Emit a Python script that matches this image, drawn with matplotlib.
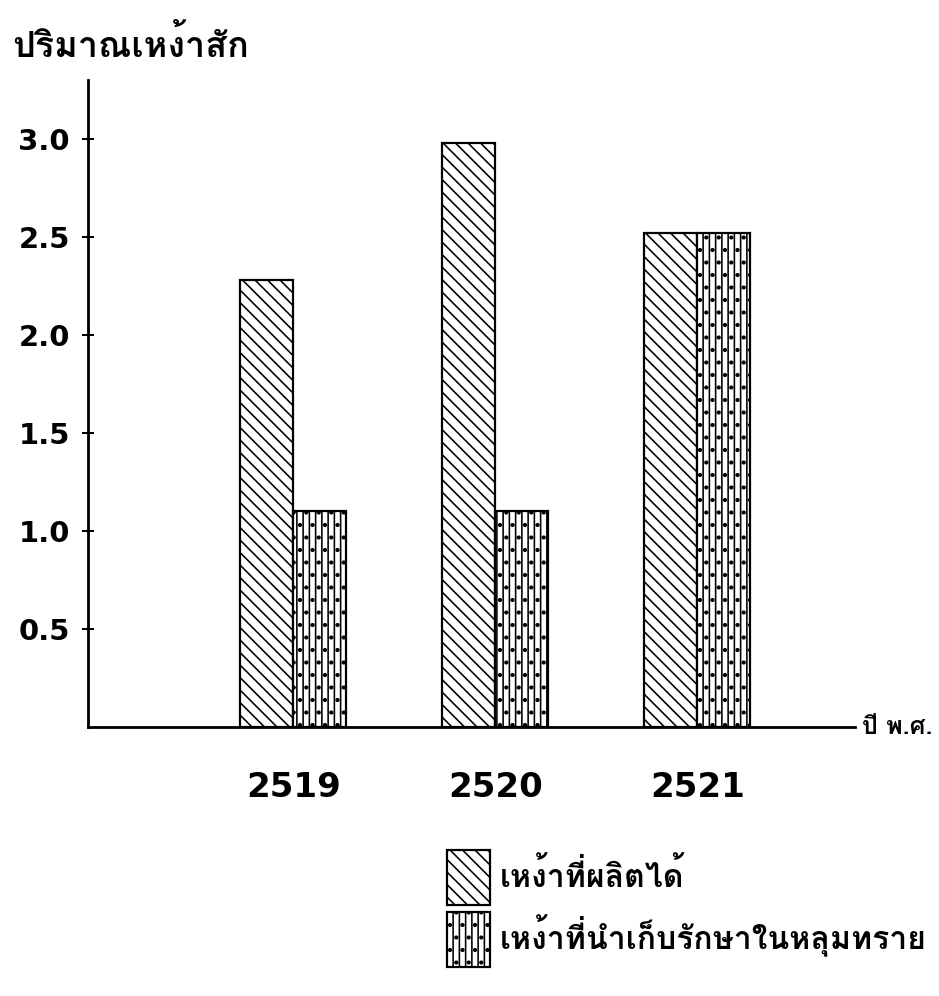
import numpy as np
import matplotlib
matplotlib.use("Agg")
from matplotlib import pyplot as plt, font_manager
from matplotlib.ft2font import FT2Font

years = ["2519", "2520", "2521"]
produced = [2.28, 2.98, 2.52]
stored = [1.1, 1.1, 2.52]
yticks = [0.5, 1.0, 1.5, 2.0, 2.5, 3.0]
ytick_labels = ["0.5", "1.0", "1.5", "2.0", "2.5", "3.0"]
y_title = "ปริมาณเหง้าสัก"
x_title = "ปี พ.ศ."
legend_labels = ["เหง้าที่ผลิตได้", "เหง้าที่นำเก็บรักษาในหลุมทราย"]


def thai_families():
    # any installed family that has Thai glyphs
    names = []
    for f in font_manager.fontManager.ttflist:
        try:
            if 0x0E01 in FT2Font(f.fname).get_charmap() and f.name not in names:
                names.append(f.name)
        except Exception:
            pass
    return names


DPI = 75


def pt(px):
    return px * 72 / DPI


thai = thai_families() + ["DejaVu Sans"]
W, H = 939, 996

plt.rcParams["hatch.linewidth"] = pt(1.6)
fig = plt.figure(figsize=(W / DPI, H / DPI), dpi=DPI)
ax = fig.add_axes([88 / W, (H - 727) / H, (855 - 88) / W, (727 - 80) / H])

x = np.arange(len(years))
w = 0.262
b1 = ax.bar(x - w / 2, produced, w, facecolor="white", edgecolor="black",
            hatch="\\\\", linewidth=pt(2.2))
b2 = ax.bar(x + w / 2, stored, w, facecolor="white", edgecolor="black",
            hatch="||.", linewidth=pt(2.2))

ax.set_xlim(-1.015, 2.78)
ax.set_ylim(0, 3.3)
for s in ["top", "right"]:
    ax.spines[s].set_visible(False)
for s in ["left", "bottom"]:
    ax.spines[s].set_linewidth(pt(2.8))

ax.set_yticks(yticks, ytick_labels, fontsize=pt(29), fontweight="bold")
ax.tick_params(axis="y", direction="inout", length=pt(12), width=pt(2), pad=pt(12))
ax.set_xticks(x, years, fontsize=pt(34), fontweight="bold")
ax.tick_params(axis="x", length=0, pad=pt(44))

fig.text(12 / W, 1 - 45 / H, y_title, va="center", ha="left",
         family=thai, fontsize=pt(36), fontweight="bold")
fig.text(862 / W, 1 - 727 / H, x_title, va="center", ha="left",
         family=thai, fontsize=pt(25), fontweight="bold")

# legend patch height = fs * (0.65 * handleheight + 0.245)
fs = 32
fig.legend(handles=[b1, b2], labels=legend_labels, loc="upper left",
           bbox_to_anchor=(447 / W, 1 - 850 / H), frameon=False,
           prop={"family": thai, "size": pt(fs), "weight": "bold"},
           handlelength=43 / fs, handleheight=(55 / fs - 0.245) / 0.65,
           handletextpad=10 / fs, labelspacing=7 / fs,
           borderpad=0, borderaxespad=0)

fig.savefig("out.png", dpi=DPI, facecolor="white")
